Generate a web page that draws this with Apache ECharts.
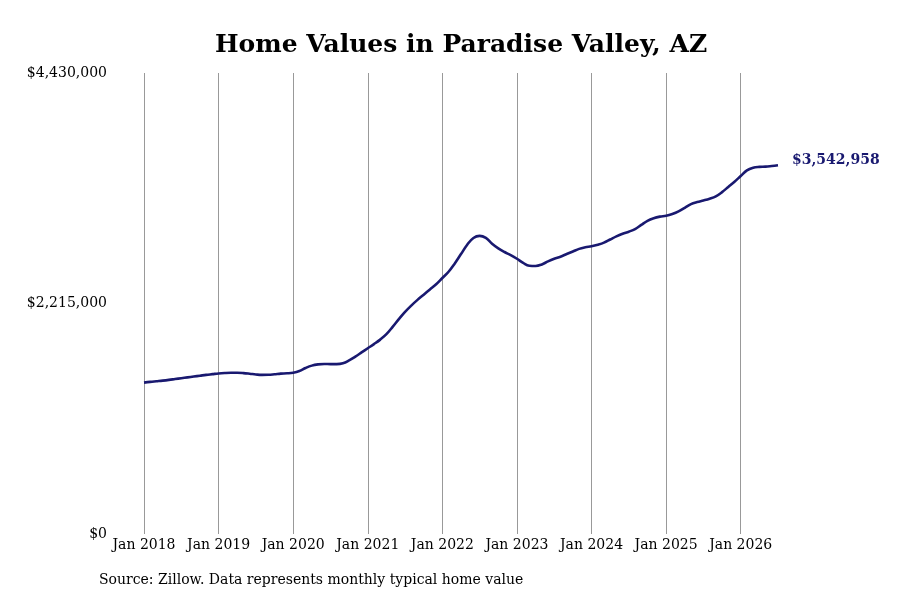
<!DOCTYPE html>
<html>
<head>
<meta charset="utf-8">
<title>Home Values in Paradise Valley, AZ</title>
<script src="https://cdn.jsdelivr.net/npm/echarts@6/dist/echarts.min.js"></script>
<style>
  html, body { margin: 0; padding: 0; background: #fff; }
  #chart { width: 900px; height: 600px; }
</style>
</head>
<body>
<div id="chart"></div>
<script>
// 数据：2018年1月 ~ 2026年7月，每月典型房价（美元）
const startYear = 2018;
const monthNames = ["Jan", "Feb", "Mar", "Apr", "May", "Jun", "Jul", "Aug", "Sep", "Oct", "Nov", "Dec"];

const values2018 = [1455000, 1462000, 1468000, 1474000, 1481000, 1489000, 1497000, 1505000, 1513000, 1521000, 1529000, 1536000];
const values2019 = [1543000, 1547000, 1549000, 1549000, 1546000, 1540000, 1533000, 1529000, 1530000, 1535000, 1541000, 1544000];
const values2020 = [1550000, 1566000, 1595000, 1618000, 1630000, 1634000, 1632000, 1632000, 1640000, 1668000, 1705000, 1745000];
const values2021 = [1785000, 1825000, 1868000, 1920000, 1990000, 2065000, 2135000, 2195000, 2250000, 2300000, 2350000, 2400000];
const values2022 = [2460000, 2520000, 2600000, 2690000, 2780000, 2845000, 2865000, 2845000, 2790000, 2745000, 2710000, 2680000];
const values2023 = [2645000, 2605000, 2578000, 2575000, 2590000, 2620000, 2645000, 2665000, 2690000, 2715000, 2740000, 2755000];
const values2024 = [2765000, 2780000, 2800000, 2830000, 2860000, 2885000, 2905000, 2930000, 2970000, 3010000, 3035000, 3050000];
const values2025 = [3058000, 3075000, 3100000, 3135000, 3170000, 3190000, 3205000, 3222000, 3245000, 3285000, 3335000, 3385000];
const values2026 = [3440000, 3495000, 3520000, 3528000, 3530000, 3536000, 3542958];

const homeValues = [].concat(values2018, values2019, values2020, values2021, values2022,
                             values2023, values2024, values2025, values2026);

// y轴刻度
const yTicks = [0, 2215000, 4430000];

// 类目：月份标签
const categories = homeValues.map((v, i) =>
    monthNames[i % 12] + " " + (startYear + Math.floor(i / 12)));

const serif = "DejaVu Serif";
const lineColor = "#191970";

const fmtMoney = v => "$" + Math.round(v).toLocaleString("en-US");

var myChart = echarts.init(document.getElementById("chart"));

var option = {
    animation: false,
    backgroundColor: "#fff",
    title: {
        text: "Home Values in Paradise Valley, AZ",
        left: 210,
        top: 28,
        textStyle: {
            fontFamily: serif,
            fontWeight: "bold",
            fontSize: 25,
            color: "#000"
        }
    },
    graphic: [
        {
            type: "text",
            left: 99,
            top: 573,
            style: {
                text: "Source: Zillow. Data represents monthly typical home value",
                font: "14px 'DejaVu Serif'",
                fill: "#000"
            }
        }
    ],
    grid: {
        left: 144,
        right: 122,
        top: 73,
        bottom: 66
    },
    xAxis: {
        type: "category",
        boundaryGap: false,
        data: categories,
        axisLine: { show: false },
        axisTick: { show: false },
        axisLabel: {
            interval: (i, v) => v.indexOf("Jan") === 0,
            color: "#000",
            fontFamily: serif,
            fontSize: 14,
            margin: 4
        },
        splitLine: {
            show: true,
            interval: (i, v) => v.indexOf("Jan") === 0,
            lineStyle: { color: "#999", width: 1 }
        }
    },
    yAxis: {
        type: "value",
        min: yTicks[0],
        max: yTicks[2],
        interval: yTicks[1],
        axisLine: { show: false },
        axisTick: { show: false },
        splitLine: { show: false },
        axisLabel: {
            color: "#000",
            fontFamily: serif,
            fontSize: 14,
            margin: 37,
            formatter: fmtMoney
        }
    },
    series: [
        {
            name: "Home Value",
            type: "line",
            data: homeValues,
            smooth: 0.4,
            showSymbol: false,
            lineStyle: { color: lineColor, width: 2.6 },
            endLabel: {
                show: true,
                distance: 14,
                offset: [0, -5],
                color: lineColor,
                fontFamily: serif,
                fontWeight: "bold",
                fontSize: 14,
                formatter: p => fmtMoney(p.value)
            }
        }
    ]
};

myChart.setOption(option);

window.addEventListener("resize", function () {
    myChart.resize();
});
</script>
</body>
</html>
